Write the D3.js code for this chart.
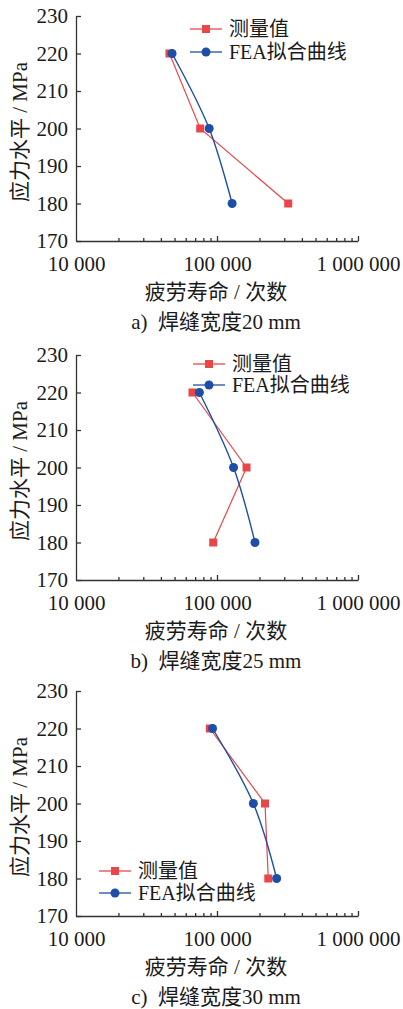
<!DOCTYPE html>
<html>
<head>
<meta charset="utf-8">
<script src="https://cdn.jsdelivr.net/npm/d3@7"></script>
<style>
  body { margin: 0; background: #fff; }
  svg text { font-family: "Liberation Serif", "Noto Sans CJK SC", serif; fill: #1a1a1a; }
</style>
</head>
<body>
<div id="chart"></div>
<script>
// data, one entry per weld width
const stressLevels = [220, 200, 180];
const measured20 = [46000, 76000, 320000];
const fea20 = [48000, 88000, 128000];
const measured25 = [67000, 162000, 94000];
const fea25 = [75000, 131000, 186000];
const measured30 = [89000, 219000, 231000];
const fea30 = [93000, 181000, 265000];

const captions = ["a)  焊缝宽度20 mm", "b)  焊缝宽度25 mm", "c)  焊缝宽度30 mm"];
const seriesNames = ["测量值", "FEA拟合曲线"];
const yTicks = [170, 180, 190, 200, 210, 220, 230];
const xLabel = "疲劳寿命 / 次数";
const yLabel = "应力水平 / MPa";

const panels = [
    {top: 16, measured: measured20, fea: fea20, legend: {x: 190, y: 13, gap: 23}},
    {top: 355, measured: measured25, fea: fea25, legend: {x: 193, y: 9, gap: 21}},
    {top: 691, measured: measured30, fea: fea30, legend: {x: 99, y: 180, gap: 22}}
];

const red = "#e8474a", blue = "#1f4ea6";
const width = 403, height = 1009;
const plotH = 225;

const svg = d3.select("#chart").append("svg")
    .attr("width", width)
    .attr("height", height);

const x = d3.scaleLog().domain([1e4, 1e6]).range([76, 358]);
const fmt = d3.formatLocale({decimal: ".", thousands: " ", grouping: [3], currency: ["", ""]}).format(",");

panels.forEach(function(p, i) {
    const g = svg.append("g").attr("transform", `translate(0, ${p.top})`);
    const y = d3.scaleLinear().domain([170, 230]).range([plotH, 0]);

    // x axis (ticks inside)
    const xTickVals = x.ticks();
    const isMajor = v => Math.abs(Math.log10(v) - Math.round(Math.log10(v))) < 1e-9;
    const xAxis = g.append("g")
        .attr("transform", `translate(0, ${plotH})`)
        .call(d3.axisBottom(x)
            .tickValues(xTickVals)
            .tickSizeInner(-5)
            .tickSizeOuter(0)
            .tickPadding(15)
            .tickFormat(d => isMajor(d) ? fmt(d) : ""));
    xAxis.selectAll(".tick line").attr("y2", d => isMajor(d) ? -5 : -3);
    xAxis.selectAll(".tick").filter(d => d === 1e4).select("line").remove();
    xAxis.selectAll("text").style("font-size", "21px");

    // y axis
    const yAxis = g.append("g")
        .attr("transform", "translate(76, 0)")
        .call(d3.axisLeft(y)
            .tickValues(yTicks)
            .tickSizeInner(-5)
            .tickSizeOuter(0)
            .tickPadding(8));
    yAxis.selectAll("text").style("font-size", "21px");
    g.selectAll(".domain, .tick line").attr("stroke", "#333").attr("stroke-width", 1.3);

    // axis titles
    g.append("text")
        .attr("x", 216).attr("y", plotH + 51)
        .attr("dy", "0.35em")
        .attr("text-anchor", "middle")
        .style("font-size", "21px")
        .text(xLabel);
    g.append("text")
        .attr("transform", `translate(20, ${116}) rotate(-90)`)
        .attr("dy", "0.35em")
        .attr("text-anchor", "middle")
        .style("font-size", "21px")
        .text(yLabel);
    g.append("text")
        .attr("x", 216).attr("y", plotH + 81)
        .attr("dy", "0.35em")
        .attr("text-anchor", "middle")
        .style("font-size", "21px")
        .style("white-space", "pre")
        .text(captions[i]);

    // measured series: straight segments, square markers
    const measuredPts = stressLevels.map((s, k) => [p.measured[k], s]);
    const feaPts = stressLevels.map((s, k) => [p.fea[k], s]);

    const straight = d3.line().x(d => x(d[0])).y(d => y(d[1]));
    const smooth = d3.line().x(d => x(d[0])).y(d => y(d[1])).curve(d3.curveCatmullRom);

    g.append("path")
        .datum(measuredPts)
        .attr("d", straight)
        .attr("fill", "none")
        .attr("stroke", red)
        .attr("stroke-width", 1.2);
    g.append("path")
        .datum(feaPts)
        .attr("d", smooth)
        .attr("fill", "none")
        .attr("stroke", blue)
        .attr("stroke-width", 1.4);

    g.selectAll(".sq")
        .data(measuredPts)
        .enter()
        .append("rect")
        .attr("x", d => x(d[0]) - 4)
        .attr("y", d => y(d[1]) - 4)
        .attr("width", 8).attr("height", 8)
        .attr("fill", red);
    g.selectAll(".dot")
        .data(feaPts)
        .enter()
        .append("circle")
        .attr("cx", d => x(d[0]))
        .attr("cy", d => y(d[1]))
        .attr("r", 4.5)
        .attr("fill", blue);

    // legend
    const lg = g.append("g").attr("transform", `translate(${p.legend.x}, ${p.legend.y})`);
    [red, blue].forEach(function(c, k) {
        const row = lg.append("g").attr("transform", `translate(0, ${k * p.legend.gap})`);
        row.append("line").attr("x1", 0).attr("x2", 32).attr("stroke", c).attr("stroke-width", 1.3);
        if (k === 0) {
            row.append("rect").attr("x", 12).attr("y", -4).attr("width", 8).attr("height", 8).attr("fill", c);
        } else {
            row.append("circle").attr("cx", 16).attr("r", 4.5).attr("fill", c);
        }
        row.append("text")
            .attr("x", 39).attr("dy", "0.35em")
            .style("font-size", "20px")
            .text(seriesNames[k]);
    });
});
</script>
</body>
</html>
